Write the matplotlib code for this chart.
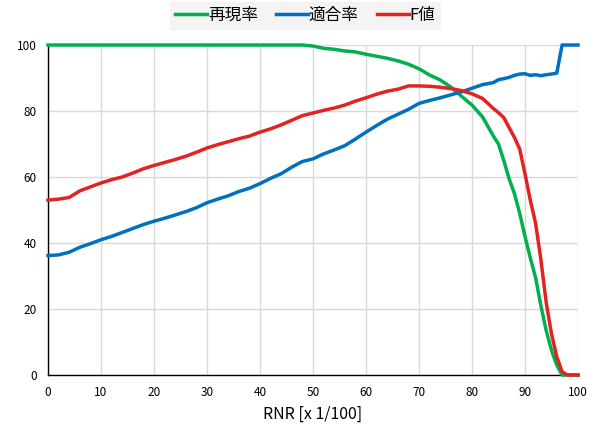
import matplotlib.pyplot as plt

plt.rcParams['font.family'] = ['Noto Sans CJK JP', 'DejaVu Sans']

# RNR (x 1/100)
rnr = [0, 2, 4, 6, 8, 10, 12, 14, 16, 18, 20, 22, 24, 26, 28, 30, 32, 34, 36, 38,
       40, 42, 44, 46, 48, 50, 52, 54, 56, 58, 60, 62, 64, 66, 68, 70, 72, 74, 76, 78,
       80, 82, 84, 85, 86, 87, 88, 89, 90, 91, 92, 93, 94, 95, 96, 97, 98, 99, 100]

# 再現率
recall = [100, 100, 100, 100, 100, 100, 100, 100, 100, 100, 100, 100, 100, 100, 100, 100, 100, 100, 100, 100,
          100, 100, 100, 100, 100, 99.7, 99.0, 98.7, 98.2, 97.9, 97.2, 96.6, 96.0, 95.2, 94.2, 92.8, 90.9, 89.4, 87.3, 84.5,
          81.8, 78.2, 72.5, 70, 65, 59.5, 55, 49, 42, 35.5, 29.5, 21, 13.5, 7.5, 3, 0, 0, 0, 0]

# 適合率
precision = [36.2, 36.4, 37.2, 38.7, 39.8, 41, 42, 43.2, 44.4, 45.6, 46.6, 47.5, 48.5, 49.5, 50.7, 52.2, 53.3, 54.3, 55.6, 56.6,
             58, 59.6, 61, 63, 64.7, 65.5, 67, 68.2, 69.5, 71.5, 73.6, 75.6, 77.5, 79, 80.5, 82.3, 83.2, 84, 84.9, 85.8,
             86.9, 88, 88.6, 89.5, 89.8, 90.2, 90.8, 91.2, 91.3, 90.8, 91, 90.7, 91, 91.2, 91.5, 100, 100, 100, 100]

# F値
fvalue = [53, 53.3, 53.8, 55.8, 57, 58.2, 59.2, 60, 61.2, 62.5, 63.5, 64.4, 65.3, 66.3, 67.5, 68.8, 69.8, 70.7, 71.6, 72.4,
          73.6, 74.6, 75.8, 77.2, 78.6, 79.4, 80.2, 80.9, 81.8, 83, 84, 85.1, 86, 86.6, 87.6, 87.6, 87.5, 87.2, 86.8, 86.2,
          85.2, 83.8, 80.8, 79.5, 78, 75, 72, 68.5, 61, 53, 46, 35, 22, 12.5, 5.5, 1, 0, 0, 0]

fig = plt.figure(figsize=(6.01, 4.30), dpi=100)
ax = fig.add_axes([0.0799, 0.1279, 0.8818, 0.7674])

ax.plot(rnr, recall, color='#00B050', linewidth=2.5, label='再現率', clip_on=False, zorder=3)
ax.plot(rnr, precision, color='#0070C0', linewidth=2.5, label='適合率', clip_on=False, zorder=3)
ax.plot(rnr, fvalue, color='#E32322', linewidth=2.5, label='F値', clip_on=False, zorder=4)

ax.set_xlim(0, 100)
ax.set_ylim(0, 100)
ax.set_xticks(range(0, 101, 10))
ax.set_yticks(range(0, 101, 20))
ax.grid(True, color='#D9D9D9', linewidth=1)
ax.set_axisbelow(True)
ax.tick_params(length=0, labelsize=8.5, pad=8)
for s in ['top', 'right']:
    ax.spines[s].set_visible(False)
for s in ['left', 'bottom']:
    ax.spines[s].set_color('black')
    ax.spines[s].set_linewidth(1)
ax.set_xlabel('RNR [x 1/100]', fontsize=11.5, labelpad=5)

leg = fig.legend(loc='upper center', bbox_to_anchor=(0.508, 1.0), ncol=3, fontsize=12,
                 frameon=True, fancybox=False, handlelength=1.9, columnspacing=1.1,
                 handletextpad=0.05, borderpad=0.3, borderaxespad=0.1)
leg.get_frame().set_facecolor('#F2F2F2')
leg.get_frame().set_edgecolor('#F2F2F2')

fig.savefig('out.png', dpi=100)
